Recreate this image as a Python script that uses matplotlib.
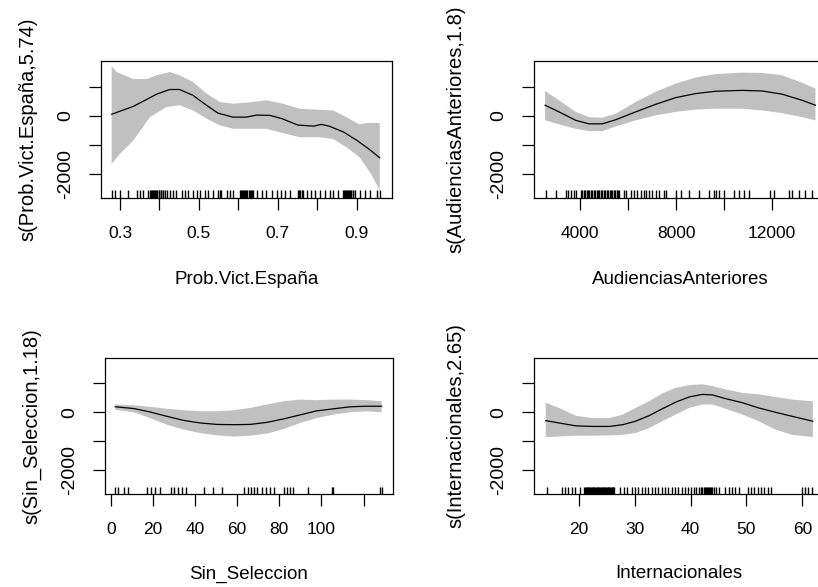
import numpy as np
import matplotlib
matplotlib.use("Agg")
import matplotlib.pyplot as plt

plt.rcParams['font.family'] = ['Liberation Sans', 'DejaVu Sans']

# ---------- data ----------
# Prob.Vict.España
p1_x = [0.279, 0.334, 0.393, 0.426, 0.451, 0.485, 0.519, 0.548, 0.586, 0.62, 0.646,
        0.68, 0.71, 0.75, 0.79, 0.81, 0.83, 0.866, 0.90, 0.93, 0.958]
p1_fit = [50, 320, 740, 900, 900, 700, 360, 90, -50, -50, 20,
          10, -100, -320, -360, -300, -360, -560, -850, -1140, -1450]
p1_up_x = [0.279, 0.292, 0.334, 0.368, 0.393, 0.426, 0.451, 0.485, 0.519, 0.553, 0.587,
           0.638, 0.671, 0.713, 0.755, 0.806, 0.84, 0.873, 0.907, 0.924, 0.958]
p1_up = [1700, 1500, 1260, 1260, 1390, 1500, 1390, 1160, 760, 470, 410,
         470, 530, 410, 240, 200, 180, -50, -300, -250, -250]
p1_lo_x = [0.279, 0.300, 0.334, 0.376, 0.418, 0.451, 0.485, 0.519, 0.553, 0.587,
           0.638, 0.671, 0.713, 0.755, 0.806, 0.84, 0.873, 0.907, 0.936, 0.958]
p1_lo = [-1660, -1310, -850, -50, 300, 360, 180, -100, -330, -450,
         -450, -450, -600, -740, -740, -800, -1080, -1430, -2000, -2570]
p1_rug = [0.279, 0.287, 0.3, 0.321, 0.342, 0.351, 0.359, 0.372, 0.375, 0.378, 0.381,
          0.383, 0.386, 0.389, 0.392, 0.395, 0.398, 0.4, 0.403, 0.405, 0.408, 0.41,
          0.414, 0.418, 0.427, 0.435, 0.443, 0.456, 0.465, 0.473,
          0.486, 0.494, 0.503, 0.515, 0.524, 0.536, 0.549, 0.553, 0.557, 0.57, 0.578,
          0.587, 0.604, 0.607, 0.609, 0.612, 0.614, 0.617, 0.62, 0.623, 0.626, 0.629,
          0.632, 0.635, 0.638, 0.646, 0.659, 0.671,
          0.684, 0.697, 0.709, 0.718, 0.73, 0.751, 0.754, 0.757, 0.761, 0.764, 0.773,
          0.785, 0.794, 0.806, 0.819, 0.832, 0.84, 0.853, 0.865, 0.868, 0.87, 0.873,
          0.875, 0.878, 0.88, 0.883, 0.886, 0.889, 0.891,
          0.895, 0.908, 0.92, 0.933, 0.95, 0.958]

# AudienciasAnteriores
p2_x = [2545, 3127, 3820, 4374, 4930, 5483, 6315, 7146, 7978, 8810, 9640,
        10750, 11580, 12410, 13245, 13800]
p2_fit = [360, 130, -160, -280, -280, -140, 130, 390, 620, 760, 840,
          870, 850, 740, 530, 360]
p2_up = [850, 530, 130, -50, -70, 70, 470, 820, 1100, 1310, 1430,
         1480, 1470, 1390, 1130, 930]
p2_lo = [-160, -300, -450, -530, -530, -370, -160, 10, 130, 210, 240,
         240, 180, 90, -50, -160]
p2_rug = [2572, 2988, 3404, 3515, 3626, 3737, 3820, 4030, 4090, 4150, 4210, 4270,
          4330, 4390, 4450, 4510, 4570, 4630, 4690, 4750, 4810, 4870, 4930, 4990,
          5050, 5110, 5170, 5230, 5290, 5350, 5410, 5470, 5530, 5590, 5620,
          5830, 5927, 6107, 6245, 6384, 6523, 6661, 6758, 6870, 7008,
          7146, 7285, 7493, 7590, 7978, 8186, 8532, 8948, 9364, 9572, 9669, 9780,
          9988, 10403, 10611, 10819, 11027, 11928, 12067, 12690, 12829, 13106,
          13383, 13660]

# Sin_Seleccion
p3_x = [2.1, 10.8, 18.7, 26.6, 34.5, 42.4, 50.3, 58.2, 66.1, 74, 82,
        89.9, 97.8, 105.7, 113.6, 121.5, 128.6]
p3_fit = [190, 130, 10, -140, -280, -370, -420, -430, -420, -350, -230,
          -90, 50, 120, 190, 210, 210]
p3_up = [270, 240, 190, 120, 70, 35, 35, 70, 150, 270, 380,
         440, 420, 440, 440, 420, 380]
p3_lo = [90, 0, -200, -430, -600, -720, -800, -840, -810, -740, -580,
         -370, -200, -80, 0, 35, 0]
p3_rug = [2.1, 3.6, 6.0, 8.1, 17.1, 19, 21, 23.1, 28.5, 30.1, 32.1, 34, 35.8,
          44.3, 48.7, 52.7, 63.3, 64.9, 66.5, 68, 69.6, 71.7, 73.6, 75.6, 77.5,
          82, 83.5, 85.1, 86.7, 93.8, 104.9, 105.5, 128, 128.6]

# Internacionales
p4_x = [14.0, 16.4, 19.4, 22.4, 25.4, 27.8, 30.1, 32.5, 34.9, 37.3, 39.7,
        42.1, 43.9, 46.3, 49.3, 52.2, 55.2, 58.2, 61.9]
p4_fit = [-290, -370, -470, -490, -490, -430, -310, -120, 120, 350, 530,
          620, 600, 470, 330, 150, 0, -140, -310]
p4_up = [330, 150, -120, -200, -200, -80, 150, 380, 650, 850, 940,
         970, 910, 790, 670, 620, 530, 440, 380]
p4_lo = [-860, -840, -810, -810, -800, -780, -720, -550, -310, -80, 150,
         270, 270, 120, -80, -310, -600, -780, -860]
p4_rug = [14.2, 17.0, 17.5, 18.0, 18.7, 19.3, 20.2, 20.9, 21.05, 21.2, 21.35, 21.5,
          21.65, 21.8, 21.95, 22.1, 22.25, 22.4, 22.55, 22.7, 22.85, 23.0, 23.15,
          23.3, 23.45, 23.6, 23.75, 23.9, 24.05, 24.2, 24.35, 24.5, 24.65, 24.8,
          24.95, 25.1, 25.25, 25.4, 25.55, 25.7, 25.85, 26.0, 26.15, 26.3,
          27.3, 28.0, 28.6, 29.4, 30.0, 30.6, 31.2, 31.8, 32.4, 33.0,
          33.6, 34.2, 34.8, 35.4, 36.0, 36.6, 37.2, 37.8, 38.4, 39.0, 39.5, 40.0,
          40.5, 41.0, 41.5, 41.9, 42.1, 42.3, 42.5, 42.7, 42.9, 43.1, 43.3, 43.5,
          43.7, 43.9, 44.2, 44.6, 45.0, 46.2, 46.8,
          47.4, 48.0, 48.6, 50.2, 50.8, 51.4, 52.0, 52.6, 53.2, 53.8, 54.4, 59.9,
          60.5, 61.1, 61.8]

panels = [
    dict(x=p1_x, fit=p1_fit, up_x=p1_up_x, up=p1_up, lo_x=p1_lo_x, lo=p1_lo, rug=p1_rug,
         xlim=(0.252, 0.989), xticks=[0.3, 0.4, 0.5, 0.6, 0.7, 0.8, 0.9],
         xlabels=['0.3', '', '0.5', '', '0.7', '', '0.9'],
         xlab='Prob.Vict.España', ylab='s(Prob.Vict.España,5.74)',
         box=(101, 392, 61, 198)),
    dict(x=p2_x, fit=p2_fit, up_x=p2_x, up=p2_up, lo_x=p2_x, lo=p2_lo, rug=p2_rug,
         xlim=(2083, 14282), xticks=[4000, 6000, 8000, 10000, 12000],
         xlabels=['4000', '', '8000', '', '12000'],
         xlab='AudienciasAnteriores', ylab='s(AudienciasAnteriores,1.8)',
         box=(534, 827, 61, 198)),
    dict(x=p3_x, fit=p3_fit, up_x=p3_x, up=p3_up, lo_x=p3_x, lo=p3_lo, rug=p3_rug,
         xlim=(-2.8, 134), xticks=[0, 20, 40, 60, 80, 100, 120],
         xlabels=['0', '20', '40', '60', '80', '100', ''],
         xlab='Sin_Seleccion', ylab='s(Sin_Seleccion,1.18)',
         box=(105, 393, 358, 494)),
    dict(x=p4_x, fit=p4_fit, up_x=p4_x, up=p4_up, lo_x=p4_x, lo=p4_lo, rug=p4_rug,
         xlim=(11.9, 63.9), xticks=[20, 30, 40, 50, 60],
         xlabels=['20', '30', '40', '50', '60'],
         xlab='Internacionales', ylab='s(Internacionales,2.65)',
         box=(534, 824, 358, 494)),
]

W, H = 818, 587
fig = plt.figure(figsize=(W / 100, H / 100), dpi=100)

for p in panels:
    l, r, t, b = p['box']
    ax = fig.add_axes([l / W, 1 - b / H, (r - l) / W, (b - t) / H])
    # shaded band: upper edge then lower edge reversed
    poly_x = list(p['up_x']) + list(p['lo_x'])[::-1]
    poly_y = list(p['up']) + list(p['lo'])[::-1]
    ax.fill(poly_x, poly_y, color='#C0C0C0', lw=0)
    ax.plot(p['x'], p['fit'], color='black', lw=0.9)
    ax.vlines(p['rug'], 0, 0.055, transform=ax.get_xaxis_transform(),
              color='black', lw=1.0)
    ax.set_xlim(*p['xlim'])
    ax.set_ylim(-2830, 1880)
    ax.set_xticks(p['xticks'])
    ax.set_xticklabels(p['xlabels'], fontsize=12.5)
    ax.set_yticks([1000, 0, -1000, -2000])
    ax.set_yticklabels(['', '0', '', '-2000'], rotation=90, va='center', fontsize=14)
    ax.tick_params(direction='out', length=8.5, width=0.9, pad=12, colors='black')
    ax.tick_params(axis='y', pad=11)
    for s in ax.spines.values():
        s.set_linewidth(0.9)
    ax.set_xlabel(p['xlab'], fontsize=13.5, va='center')
    ax.set_ylabel(p['ylab'], fontsize=14.5, va='center')
    bw = r - l
    bh = b - t
    ax.xaxis.set_label_coords(0.5, -(82 if t < 300 else 80) / bh)
    ax.yaxis.set_label_coords(-(73 if l < 300 else 78) / bw, 0.5)

fig.savefig('out.png', dpi=100)
